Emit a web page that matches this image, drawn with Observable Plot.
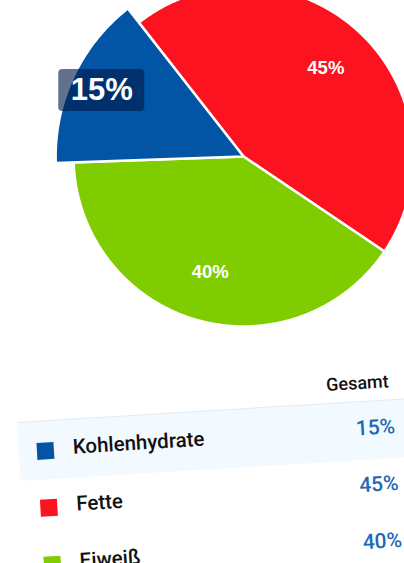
<!DOCTYPE html>
<html>
<head>
<meta charset="utf-8">
<script src="https://cdn.jsdelivr.net/npm/d3@7"></script>
<script src="https://cdn.jsdelivr.net/npm/@observablehq/plot@0.6"></script>
<style>
  html, body { margin: 0; padding: 0; background: #fff; overflow: hidden; }
  body { width: 404px; height: 563px; position: relative; font-family: "Liberation Sans", Arial, sans-serif; }
  #chart { position: absolute; left: 0; top: 0; }
  #legend { position: absolute; left: 0; top: 0; width: 404px; height: 563px; transform-origin: 200px 480px; transform: rotate(-3.5deg); pointer-events: none; }
  #legend .band { position: absolute; left: 21px; top: 411px; width: 420px; height: 58px; background: #f2faff; border-top: 1px solid #e3ecf2; }
  #legend .hdr { position: absolute; left: 318px; top: 382px; width: 90px; text-align: center; font-size: 18px; font-weight: 500; color: #111; font-family: Roboto, "Liberation Sans", sans-serif; }
  #legend .sw { position: absolute; width: 17px; height: 17px; }
  #legend .name { position: absolute; font-size: 20.5px; font-weight: 500; color: #111; font-family: Roboto, "Liberation Sans", sans-serif; line-height: 22px; }
  #legend .pct { position: absolute; width: 70px; text-align: right; font-size: 21px; font-weight: 500; color: #1e6ab4; font-family: Roboto, "Liberation Sans", sans-serif; line-height: 22px; }
</style>
</head>
<body>
<div id="chart"></div>
<div id="legend"></div>
<script>
// ---- data ----
const categories = ["Kohlenhydrate", "Fette", "Eiweiß"];
const values = [15, 45, 40];
const colors = ["#0255a5", "#fd121f", "#7fcd00"];
const pctLabels = ["15%", "45%", "40%"];
const columnHeader = "Gesamt";
const highlighted = "Kohlenhydrate";

// ---- geometry ----
const W = 404, H = 345;
const cx = 243, cy = 156, R = 170;
const startDeg = -38;
const drawOrder = ["Fette", "Eiweiß", "Kohlenhydrate"]; // clockwise from start
const rows = drawOrder.map(c => ({cat: c, value: values[categories.indexOf(c)], label: pctLabels[categories.indexOf(c)]}));

const pie = d3.pie().sort(null).value(d => d.value)
  .startAngle(startDeg * Math.PI / 180)
  .endAngle(startDeg * Math.PI / 180 + 2 * Math.PI);
const arcs = pie(rows);

const polys = [];
const labelPts = [];
for (const a of arcs) {
  const cat = a.data.cat;
  const r = cat === highlighted ? 1.105 : 1;
  polys.push({cat, x: 0, y: 0});
  const n = Math.max(8, Math.ceil((a.endAngle - a.startAngle) / 0.01));
  for (let i = 0; i <= n; i++) {
    const t = a.startAngle + (a.endAngle - a.startAngle) * i / n;
    polys.push({cat, x: r * Math.sin(t), y: r * Math.cos(t)});
  }
  const mid = (a.startAngle + a.endAngle) / 2;
  const lr = cat === highlighted ? 0.92 : 0.71;
  labelPts.push({cat, label: a.data.label, x: lr * Math.sin(mid), y: lr * Math.cos(mid)});
}
const normalLabels = labelPts.filter(d => d.cat !== highlighted);
const hiLabel = labelPts.filter(d => d.cat === highlighted);
const bw = 43 / R, bh = 21 / R;

const chart = Plot.plot({
  width: W, height: H,
  margin: 0,
  x: {domain: [-cx / R, (W - cx) / R], range: [0, W], axis: null},
  y: {domain: [-(H - cy) / R, cy / R], range: [H, 0], axis: null},
  color: {domain: categories, range: colors},
  style: {fontFamily: "Liberation Sans, Arial, sans-serif", background: "white"},
  marks: [
    Plot.line(polys, {x: "x", y: "y", z: "cat", fill: "cat", stroke: "white", strokeWidth: 2.5, strokeLinejoin: "round", curve: "linear-closed"}),
    Plot.rect(hiLabel, {x1: d => d.x - bw, x2: d => d.x + bw, y1: d => d.y - bh, y2: d => d.y + bh, fill: "#001a4a", fillOpacity: 0.62, rx: 4}),
    Plot.text(hiLabel, {x: "x", y: "y", text: "label", fill: "white", fontSize: 31, fontWeight: "bold"}),
    Plot.text(normalLabels, {x: "x", y: "y", text: "label", fill: "white", fontSize: 18.5, fontWeight: "bold"})
  ]
});
document.getElementById("chart").appendChild(chart);

// ---- legend (table) ----
const legend = document.getElementById("legend");
const band = document.createElement("div");
band.className = "band";
legend.appendChild(band);
const hdr = document.createElement("div");
hdr.className = "hdr";
hdr.textContent = columnHeader;
legend.appendChild(hdr);
const rowTop = 441, rowStep = 57;
categories.forEach((c, i) => {
  const y = rowTop + i * rowStep;
  const sw = document.createElement("div");
  sw.className = "sw";
  sw.style.left = "39px"; sw.style.top = (y - 8) + "px";
  sw.style.background = colors[i];
  legend.appendChild(sw);
  const nm = document.createElement("div");
  nm.className = "name";
  nm.style.left = "75px"; nm.style.top = (y - 13) + "px";
  nm.textContent = c;
  legend.appendChild(nm);
  const pc = document.createElement("div");
  pc.className = "pct";
  pc.style.left = "328px"; pc.style.top = (y - 14) + "px";
  pc.textContent = pctLabels[i];
  legend.appendChild(pc);
});
</script>
</body>
</html>
